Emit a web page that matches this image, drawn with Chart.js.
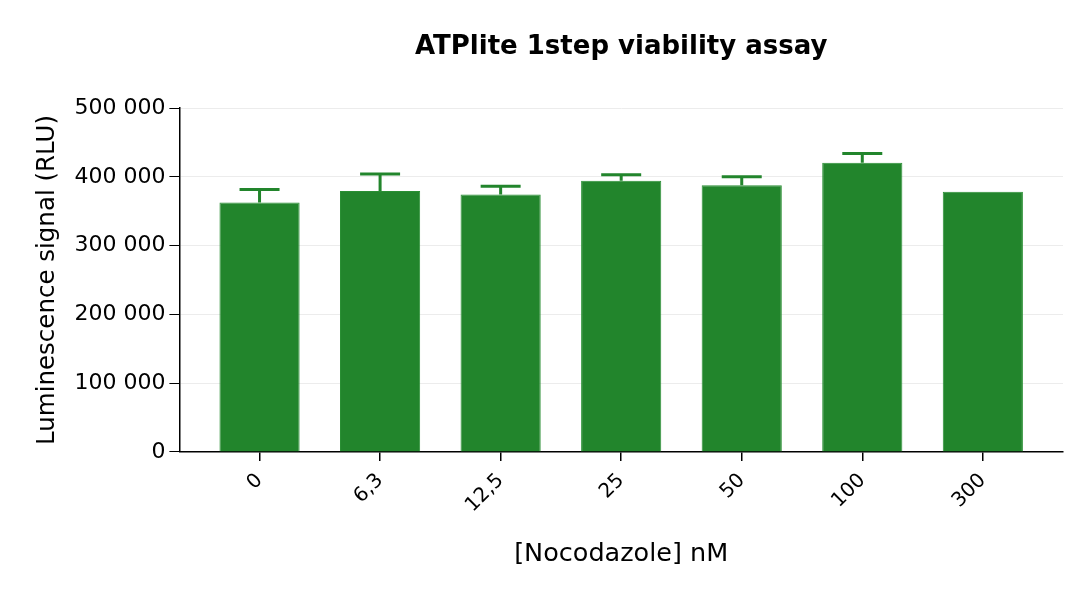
<!DOCTYPE html>
<html>
<head>
<meta charset="utf-8">
<script src="https://cdn.jsdelivr.net/npm/chart.js@4.4.1/dist/chart.umd.min.js"></script>
<style>
  html, body { margin: 0; padding: 0; background: #fff; }
  #wrap { width: 1080px; height: 596px; }
</style>
</head>
<body>
<div id="wrap"><canvas id="chartContainer"></canvas></div>
<script>
const categories = ['0', '6,3', '12,5', '25', '50', '100', '300'];
const signal = [362600, 379500, 374300, 394100, 387800, 420400, 378100];
const errorUp = [19000, 24400, 12100, 8800, 12200, 13600, 0];
const yTicks = [0, 100000, 200000, 300000, 400000, 500000];

const green = '#22852c';
const ctx = document.getElementById('chartContainer').getContext('2d');

// error bars (upper only) drawn on top of the bars
const errorBars = {
  id: 'errorBars',
  afterDatasetsDraw(chart) {
    const x = chart.scales.x, y = chart.scales.y, c = chart.ctx;
    c.save();
    c.strokeStyle = green;
    c.lineWidth = 3;
    signal.forEach((v, i) => {
      if (!errorUp[i]) return;
      const px = x.getPixelForValue(i);
      const y0 = y.getPixelForValue(v);
      const y1 = y.getPixelForValue(v + errorUp[i]);
      c.beginPath();
      c.moveTo(px, y0);
      c.lineTo(px, y1);
      c.moveTo(px - 20, y1);
      c.lineTo(px + 20, y1);
      c.stroke();
    });
    c.restore();
  }
};

// title centred over the plot area
const plotTitle = {
  id: 'plotTitle',
  afterDraw(chart) {
    const a = chart.chartArea, c = chart.ctx;
    c.save();
    c.font = 'bold 26px "DejaVu Sans"';
    c.fillStyle = '#000';
    c.textAlign = 'center';
    c.textBaseline = 'middle';
    c.fillText('ATPlite 1step viability assay', (a.left + a.right) / 2, 47);
    c.restore();
  }
};

new Chart(ctx, {
  type: 'bar',
  data: {
    datasets: [{
      data: signal.map((v, i) => ({ x: i, y: v })),
      backgroundColor: green,
      borderColor: '#2a8f34',
      borderWidth: 1,
      barPercentage: 0.665,
      categoryPercentage: 1
    }]
  },
  options: {
    responsive: true,
    maintainAspectRatio: false,
    animation: false,
    layout: { padding: { top: 108, right: 17, bottom: 26, left: 33 } },
    plugins: { legend: { display: false }, tooltip: { enabled: false } },
    scales: {
      x: {
        type: 'linear',
        offset: false,
        min: -0.665,
        max: 6.665,
        afterBuildTicks: (scale) => { scale.ticks = categories.map((_, i) => ({ value: i })); },
        ticks: {
          callback: (v) => categories[v],
          minRotation: 45,
          maxRotation: 45,
          color: '#000',
          font: { family: 'DejaVu Sans', size: 20 },
          padding: 8
        },
        grid: { offset: false, drawOnChartArea: false, drawTicks: true, tickLength: 9, color: '#000', lineWidth: 1.5 },
        border: { color: '#000', width: 1.5 },
        title: {
          display: true,
          text: '[Nocodazole] nM',
          color: '#000',
          font: { family: 'DejaVu Sans', size: 25.5 },
          padding: { top: 14, bottom: 0 }
        }
      },
      y: {
        min: 0,
        max: 500000,
        afterBuildTicks: (scale) => { scale.ticks = yTicks.map(v => ({ value: v })); },
        ticks: {
          callback: (v) => v.toLocaleString('en-US').replace(/,/g, ' '),
          color: '#000',
          font: { family: 'DejaVu Sans', size: 22 },
          padding: 4
        },
        grid: {
          color: (c) => c.tick && c.tick.value === 0 ? 'rgba(0,0,0,0)' : '#ececec',
          tickColor: '#000',
          tickLength: 10,
          lineWidth: 1
        },
        border: { color: '#000', width: 1.5 },
        title: {
          display: true,
          text: 'Luminescence signal (RLU)',
          color: '#000',
          font: { family: 'DejaVu Sans', size: 24.5 },
          padding: { top: 0, bottom: 8 }
        }
      }
    }
  },
  plugins: [errorBars, plotTitle]
});
</script>
</body>
</html>
